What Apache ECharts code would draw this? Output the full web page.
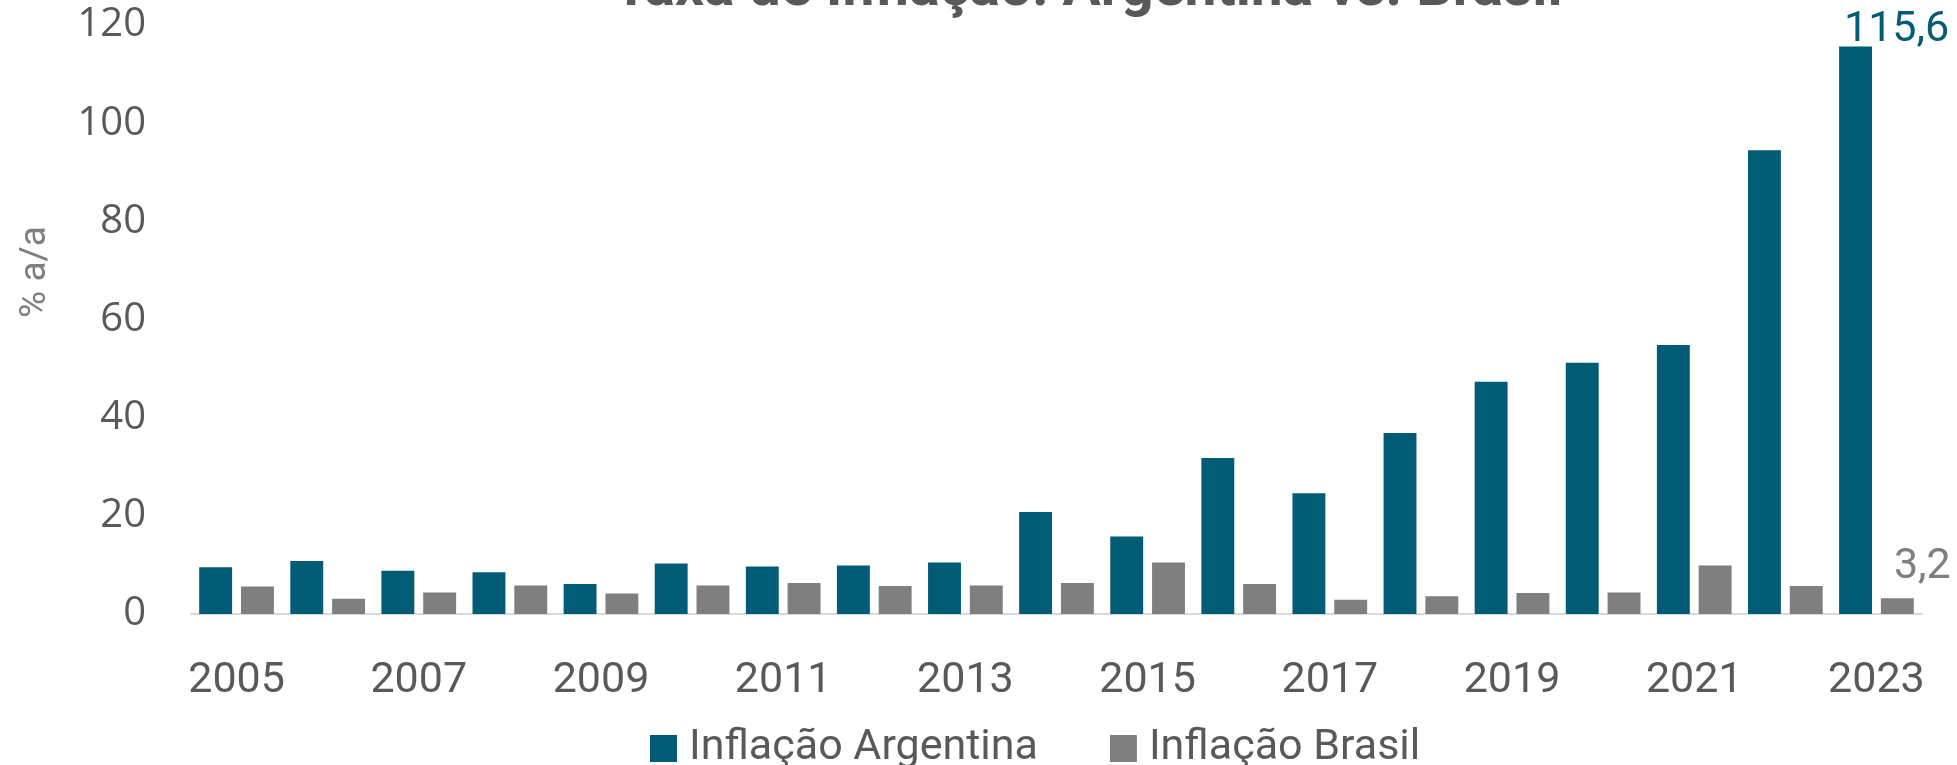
<!DOCTYPE html>
<html>
<head>
<meta charset="utf-8">
<script src="https://cdn.jsdelivr.net/npm/echarts@6/dist/echarts.min.js"></script>
<style>
  html, body { margin: 0; padding: 0; background: #fff; }
  #chart { width: 1957px; height: 765px; }
</style>
</head>
<body>
<div id="chart"></div>
<script>
// Taxa de Inflação: Argentina vs. Brasil — grouped bars, % a/a
const years = ['2005', '2006', '2007', '2008', '2009', '2010', '2011', '2012', '2013', '2014',
  '2015', '2016', '2017', '2018', '2019', '2020', '2021', '2022', '2023'];
const inflArgentina = [9.5, 10.8, 8.8, 8.5, 6.1, 10.3, 9.7, 9.9, 10.5, 20.8,
  15.8, 31.8, 24.6, 36.9, 47.3, 51.2, 54.8, 94.5, 115.6];
const inflBrasil = [5.6, 3.1, 4.4, 5.8, 4.2, 5.8, 6.3, 5.7, 5.8, 6.3,
  10.5, 6.1, 2.9, 3.6, 4.3, 4.4, 9.9, 5.7, 3.2];
const yTicks = [0, 20, 40, 60, 80, 100, 120];

const TEAL = '#035c76';
const GRAY = '#7f7f7f';
const TEXT = '#595959';
const FONT = 'Roboto, sans-serif';

const fmtPt = v => String(v).replace('.', ',');

// only the last bar of each series carries a value label
function withLastLabel(values, color, offset) {
  return values.map((v, i) => i < values.length - 1 ? v : {
    value: v,
    label: {
      show: true, position: 'top', distance: 0, offset,
      formatter: p => fmtPt(p.value),
      color, fontFamily: FONT, fontSize: 43,
    },
  });
}

const chart = echarts.init(document.getElementById('chart'));
chart.setOption({
  animation: false,
  title: {
    text: 'Taxa de Inflação: Argentina vs. Brasil',
    left: 1083, top: -43, textAlign: 'center',
    textStyle: { color: TEXT, fontFamily: FONT, fontWeight: 'bold', fontSize: 57 },
  },
  grid: { left: 191, right: 35, top: 25, bottom: 151 },
  legend: {
    left: 645, top: 722,
    itemWidth: 27, itemHeight: 27, itemGap: 72,
    icon: 'rect',
    textStyle: { color: TEXT, fontFamily: FONT, fontSize: 43, padding: [0, 0, 0, 7] },
    data: ['Inflação Argentina', 'Inflação Brasil'],
  },
  xAxis: {
    type: 'category',
    data: years,
    axisLine: { lineStyle: { color: '#d9d9d9', width: 2 } },
    axisTick: { interval: 1, length: 15, lineStyle: { color: '#d9d9d9', width: 2 } },
    axisLabel: { interval: 1, margin: 46, color: TEXT, fontFamily: FONT, fontSize: 43 },
  },
  yAxis: {
    type: 'value',
    min: yTicks[0], max: yTicks[yTicks.length - 1], interval: 20,
    axisLine: { show: false },
    axisTick: { show: false },
    splitLine: { show: false },
    axisLabel: { margin: 45, color: TEXT, fontFamily: '"Open Sans", sans-serif', fontSize: 40 },
  },
  graphic: [{
    type: 'text',
    x: 36, y: 272, rotation: Math.PI / 2,
    style: {
      text: '% a/a', fill: GRAY, fontFamily: FONT, fontSize: 37,
      align: 'center', verticalAlign: 'middle',
    },
  }],
  series: [
    {
      name: 'Inflação Argentina', type: 'bar',
      data: withLastLabel(inflArgentina, TEAL, [41, 5]),
      itemStyle: { color: TEAL },
      barGap: '27%', barCategoryGap: '18%',
    },
    {
      name: 'Inflação Brasil', type: 'bar',
      data: withLastLabel(inflBrasil, GRAY, [25, -10]),
      itemStyle: { color: GRAY },
    },
  ],
});
</script>
</body>
</html>
